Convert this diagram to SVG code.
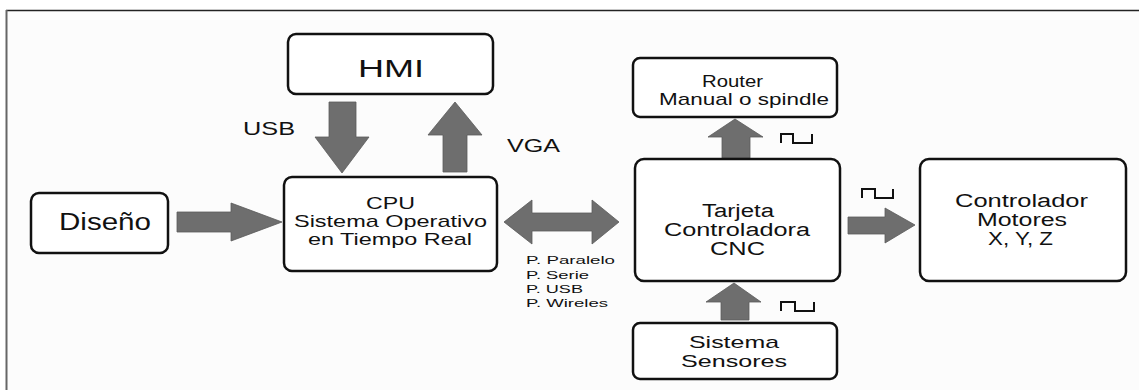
<svg xmlns="http://www.w3.org/2000/svg" width="1139" height="390" viewBox="0 0 1139 390">
<style>
.box{fill:#ffffff;stroke:#111;stroke-width:2.5}
.arr{fill:#6e6e6e;stroke:#5a5a5a;stroke-width:0.8}
.wave{fill:none;stroke:#111;stroke-width:2}
text{font-family:"Liberation Sans",Arial,sans-serif;fill:#111}
.big{font-size:23px}
.mid{font-size:18px}
.cpu{font-size:17px}
.sm{font-size:17px}
.xs{font-size:11.5px}
</style>
<rect x="0" y="0" width="1139" height="390" fill="#ffffff"/>
<rect x="6" y="10" width="1133" height="380" fill="#fcfcfc"/>
<line x1="6" y1="10.5" x2="1139" y2="10.5" stroke="#222" stroke-width="1.5"/>
<line x1="6.5" y1="10" x2="6.5" y2="390" stroke="#666" stroke-width="2"/>

<g id="connectors">
<polygon class="arr" points="329,102 356,102 356,137 369,137 342,173 315,137 329,137"/>
<polygon class="arr" points="443,172 467,172 467,135 482,135 455,102 428,135 443,135"/>
<polygon class="arr" points="177,212 231,212 231,203 282,222 231,241 231,232 177,232"/>
<polygon class="arr" points="504,222 532,200 532,213 592,213 592,200 619,222 592,244 592,231 532,231 532,244"/>
<polygon class="arr" points="722,158 750,158 750,137 763,137 735,119 708,137 722,137"/>
<polygon class="arr" points="848,217 885,217 885,208 915,225 885,243 885,234 848,234"/>
<polygon class="arr" points="721,320 749,320 749,302 761,302 734,283 706,302 721,302"/>
<path class="wave" d="M781,143 V134 H793 V143 H812 V134"/>
<path class="wave" d="M862,198 V189 H875 V198 H893 V189"/>
<path class="wave" d="M781,311 V302 H795 V311 H814 V302"/>
<text class="mid" x="243" y="135" textLength="52" lengthAdjust="spacingAndGlyphs">USB</text>
<text class="mid" x="507" y="152" textLength="53" lengthAdjust="spacingAndGlyphs">VGA</text>
<text class="xs" x="526" y="264" textLength="89" lengthAdjust="spacingAndGlyphs">P. Paralelo</text>
<text class="xs" x="526" y="279" textLength="63" lengthAdjust="spacingAndGlyphs">P. Serie</text>
<text class="xs" x="526" y="293" textLength="57" lengthAdjust="spacingAndGlyphs">P. USB</text>
<text class="xs" x="526" y="307" textLength="82" lengthAdjust="spacingAndGlyphs">P. Wireles</text>
</g>

<g id="hmi">
<rect class="box" x="288" y="34" width="205" height="60" rx="8"/>
<text class="big" x="358" y="77" textLength="66" lengthAdjust="spacingAndGlyphs">HMI</text>
</g>

<g id="diseno">
<rect class="box" x="31" y="193" width="137" height="60" rx="8"/>
<text class="big" x="59" y="230" textLength="92" lengthAdjust="spacingAndGlyphs">Diseño</text>
</g>

<g id="cpu">
<rect class="box" x="284" y="177" width="213" height="94" rx="8"/>
<text class="cpu" x="366" y="209" textLength="49" lengthAdjust="spacingAndGlyphs">CPU</text>
<text class="cpu" x="294" y="227" textLength="193" lengthAdjust="spacingAndGlyphs">Sistema Operativo</text>
<text class="cpu" x="308" y="245" textLength="164" lengthAdjust="spacingAndGlyphs">en Tiempo Real</text>
</g>

<g id="router">
<rect class="box" x="633" y="58" width="204" height="59" rx="7"/>
<text class="sm" x="702" y="87" textLength="61" lengthAdjust="spacingAndGlyphs">Router</text>
<text class="sm" x="659" y="105" textLength="170" lengthAdjust="spacingAndGlyphs">Manual o spindle</text>
</g>

<g id="tarjeta">
<rect class="box" x="635" y="159" width="205" height="122" rx="9"/>
<text class="mid" x="702" y="217" textLength="72" lengthAdjust="spacingAndGlyphs">Tarjeta</text>
<text class="mid" x="664" y="236" textLength="146" lengthAdjust="spacingAndGlyphs">Controladora</text>
<text class="mid" x="710" y="255" textLength="55" lengthAdjust="spacingAndGlyphs">CNC</text>
</g>

<g id="controlador">
<rect class="box" x="920" y="159" width="206" height="122" rx="9"/>
<text class="mid" x="955" y="207" textLength="133" lengthAdjust="spacingAndGlyphs">Controlador</text>
<text class="mid" x="977" y="226" textLength="90" lengthAdjust="spacingAndGlyphs">Motores</text>
<text class="mid" x="988" y="245" textLength="65" lengthAdjust="spacingAndGlyphs">X, Y, Z</text>
</g>

<g id="sensores">
<rect class="box" x="633" y="323" width="204" height="56" rx="7"/>
<text class="sm" x="689" y="348" textLength="90" lengthAdjust="spacingAndGlyphs">Sistema</text>
<text class="sm" x="681" y="367" textLength="106" lengthAdjust="spacingAndGlyphs">Sensores</text>
</g>
</svg>
